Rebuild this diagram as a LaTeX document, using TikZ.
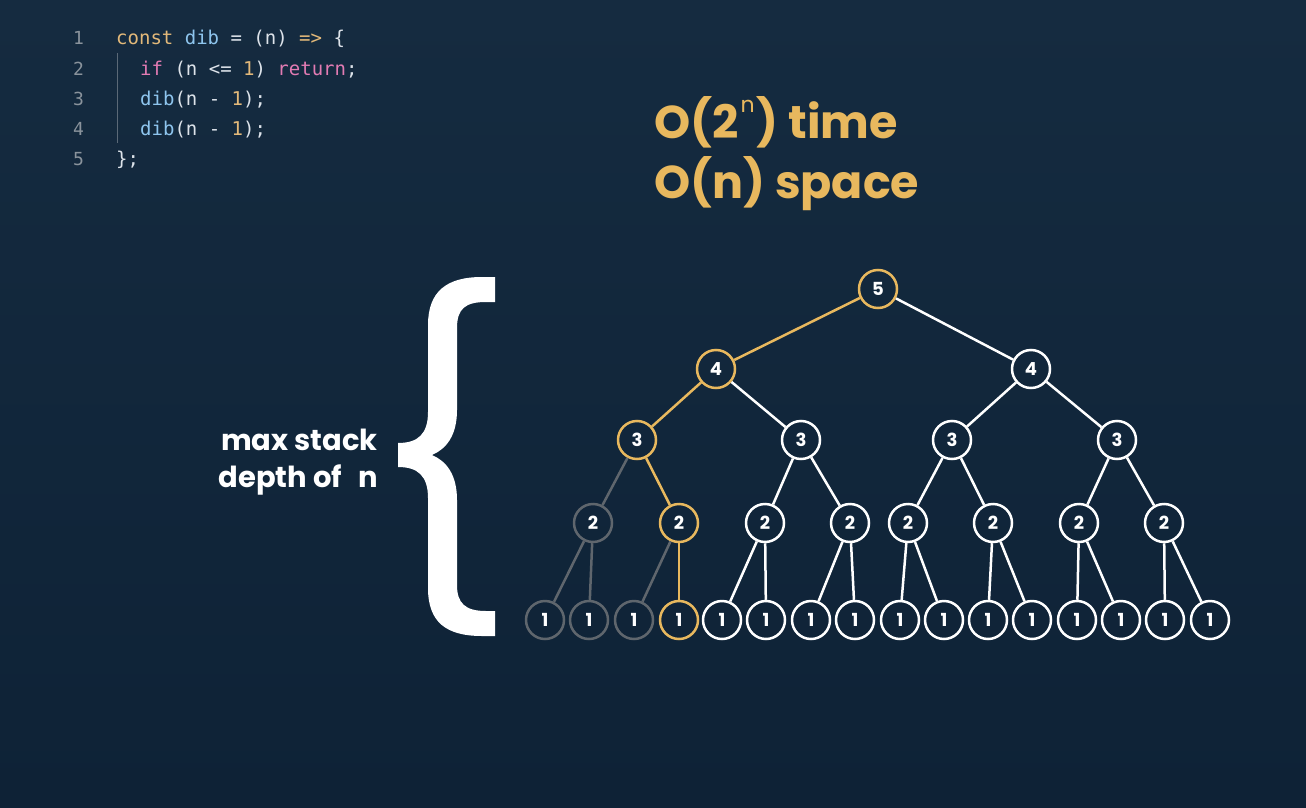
\documentclass[tikz,border=0pt]{standalone}
\usepackage{fontspec}
\setmainfont{Poppins}
\newfontfamily\codefont{DejaVu Sans Mono}
\definecolor{bgtop}{HTML}{152B40}
\definecolor{bgbot}{HTML}{0E2236}
\definecolor{gold}{HTML}{E8B85E}
\definecolor{graynode}{HTML}{5F666D}
\definecolor{codewhite}{HTML}{DDE3EA}
\definecolor{kw}{HTML}{E3B97A}
\definecolor{fn}{HTML}{8EC5EE}
\definecolor{pink}{HTML}{E27BB3}
\definecolor{lnum}{HTML}{8A939C}
\tikzset{
  tnode/.style={circle, draw=white, line width=2.5pt, minimum size=38pt, inner sep=0pt,
    text=white, font=\bfseries\fontsize{18}{18}\selectfont},
  goldn/.style={tnode, draw=gold},
  grayn/.style={tnode, draw=graynode},
  we/.style={draw=white, line width=2.5pt},
  ge/.style={draw=gold, line width=2.5pt},
  gre/.style={draw=graynode, line width=2.5pt},
  codeline/.style={anchor=base west, inner sep=0pt, text=codewhite, font=\codefont\fontsize{19}{19}\selectfont},
  lnumber/.style={anchor=base west, inner sep=0pt, text=lnum, font=\codefont\fontsize{18}{18}\selectfont},
  title/.style={anchor=base west, inner sep=0pt, text=gold, font=\bfseries\fontsize{46}{46}\selectfont},
  side/.style={anchor=base east, inner sep=0pt, text=white, font=\bfseries\fontsize{29}{29}\selectfont}
}
\begin{document}
\begin{tikzpicture}[x=1pt, y=-1pt]
\useasboundingbox (0,0) rectangle (1306,808);
\shade[top color=bgtop, bottom color=bgbot] (0,0) rectangle (1306,808);

% code
\node[lnumber] (n1) at (73,45) {1};
\node[lnumber] (n2) at (73,75) {2};
\node[lnumber] (n3) at (73,105) {3};
\node[lnumber] (n4) at (73,135) {4};
\node[lnumber] (n5) at (73,165) {5};
\node[codeline] (l1) at (116,45) {\color{kw}const \color{fn}dib \color{codewhite}= (n) \color{kw}=> \color{codewhite}\{};
\node[codeline] (l2) at (140,75) {\color{pink}if \color{codewhite}(n <= \color{kw}1\color{codewhite}) \color{pink}return\color{codewhite};};
\node[codeline] (l3) at (140,105) {\color{fn}dib\color{codewhite}(n - \color{kw}1\color{codewhite});};
\node[codeline] (l4) at (140,135) {\color{fn}dib\color{codewhite}(n - \color{kw}1\color{codewhite});};
\node[codeline] (l5) at (116,165) {\};};
\coordinate (g1) at (117,53);
\coordinate (g2) at (117,143);
\draw[lnum!60!bgtop, line width=1pt] (g1) -- (g2);

% title
\node[title] (t1) at (654,138) {O(2\kern2pt\raisebox{0.55em}{\mdseries\fontsize{22}{22}\selectfont n}\kern2pt) time};
\node[title] (t2) at (654,198) {O(n) space};

% side label
\node[side] (s1) at (378,450) {max stack};
\node[side] (s2) at (378,487) {depth of\hspace{16pt}n};

% brace
\fill[white] (495,277) -- (482,277) .. controls (446,277) and (428,292) .. (428,325)
  -- (428,412) .. controls (428,434) and (418,443) .. (398,443)
  -- (398,467) .. controls (418,467) and (428,476) .. (428,498)
  -- (428,588) .. controls (428,622) and (446,636) .. (482,636)
  -- (495,636) -- (495,611) -- (486,611) .. controls (465,611) and (457,603) .. (457,585)
  -- (457,500) .. controls (457,474) and (446,461) .. (432,455)
  .. controls (446,449) and (457,436) .. (457,410)
  -- (457,328) .. controls (457,309) and (465,302) .. (486,302)
  -- (495,302) -- cycle;

% tree nodes
\node[goldn] (r) at (878,289) {5};
\node[goldn] (a1) at (716,369) {4};
\node[tnode] (a2) at (1031,369) {4};
\node[goldn] (b1) at (637,440) {3};
\node[tnode] (b2) at (801,440) {3};
\node[tnode] (b3) at (952,440) {3};
\node[tnode] (b4) at (1117,440) {3};
\node[grayn] (c1) at (593,523) {2};
\node[goldn] (c2) at (679,523) {2};
\node[tnode] (c3) at (765,523) {2};
\node[tnode] (c4) at (850,523) {2};
\node[tnode] (c5) at (908,523) {2};
\node[tnode] (c6) at (993,523) {2};
\node[tnode] (c7) at (1079,523) {2};
\node[tnode] (c8) at (1164,523) {2};
\node[grayn] (d1) at (545,620) {1};
\node[grayn] (d2) at (589,620) {1};
\node[grayn] (d3) at (634,620) {1};
\node[goldn] (d4) at (679,620) {1};
\node[tnode] (d5) at (722,620) {1};
\node[tnode] (d6) at (766,620) {1};
\node[tnode] (d7) at (811,620) {1};
\node[tnode] (d8) at (855,620) {1};
\node[tnode] (d9) at (900,620) {1};
\node[tnode] (d10) at (944,620) {1};
\node[tnode] (d11) at (988,620) {1};
\node[tnode] (d12) at (1032,620) {1};
\node[tnode] (d13) at (1077,620) {1};
\node[tnode] (d14) at (1121,620) {1};
\node[tnode] (d15) at (1165,620) {1};
\node[tnode] (d16) at (1210,620) {1};

% edges
\draw[ge] (r) -- (a1);
\draw[we] (r) -- (a2);
\draw[ge] (a1) -- (b1);
\draw[we] (a1) -- (b2);
\draw[we] (a2) -- (b3);
\draw[we] (a2) -- (b4);
\draw[gre] (b1) -- (c1);
\draw[ge] (b1) -- (c2);
\draw[we] (b2) -- (c3);
\draw[we] (b2) -- (c4);
\draw[we] (b3) -- (c5);
\draw[we] (b3) -- (c6);
\draw[we] (b4) -- (c7);
\draw[we] (b4) -- (c8);
\draw[gre] (c1) -- (d1);
\draw[gre] (c1) -- (d2);
\draw[gre] (c2) -- (d3);
\draw[ge] (c2) -- (d4);
\draw[we] (c3) -- (d5);
\draw[we] (c3) -- (d6);
\draw[we] (c4) -- (d7);
\draw[we] (c4) -- (d8);
\draw[we] (c5) -- (d9);
\draw[we] (c5) -- (d10);
\draw[we] (c6) -- (d11);
\draw[we] (c6) -- (d12);
\draw[we] (c7) -- (d13);
\draw[we] (c7) -- (d14);
\draw[we] (c8) -- (d15);
\draw[we] (c8) -- (d16);
\end{tikzpicture}
\end{document}
